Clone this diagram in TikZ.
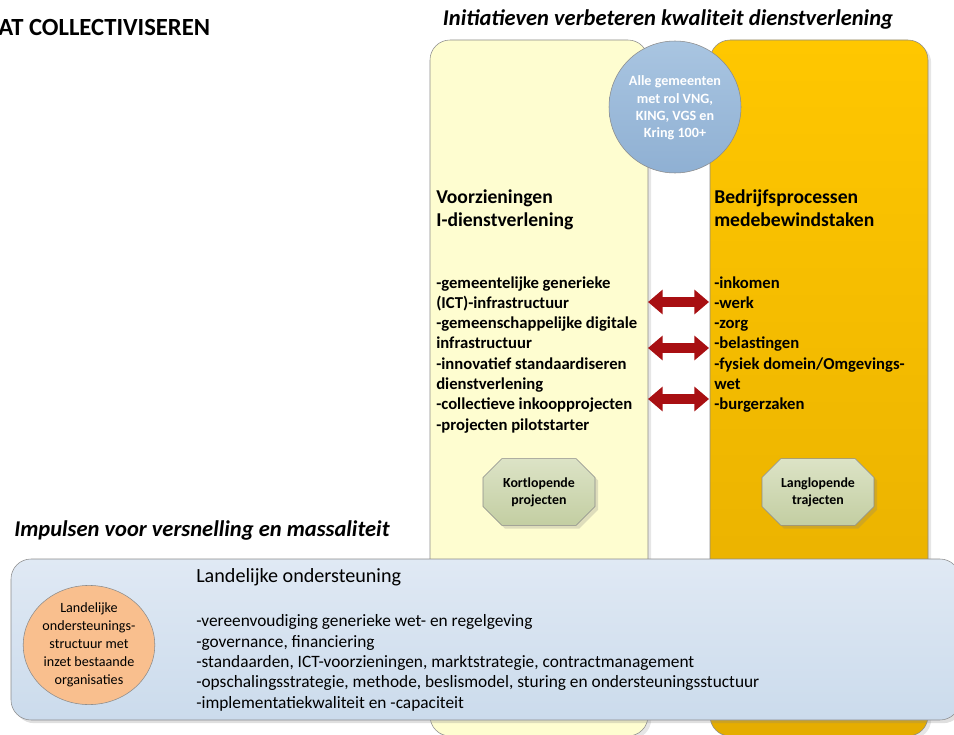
\documentclass[tikz,border=0pt]{standalone}
\usepackage{fontspec}
\setmainfont{Carlito}
\usetikzlibrary{shapes.geometric,shapes.misc,arrows.meta,shadows}
\definecolor{kortgeel}{HTML}{FEFDD0}
\definecolor{langtop}{HTML}{FFC700}
\definecolor{langbot}{HTML}{E5AD00}
\definecolor{rolblauw}{HTML}{A9C5E1}
\definecolor{rolblauwd}{HTML}{8FB0D3}
\definecolor{landtop}{HTML}{E0E9F4}
\definecolor{landbot}{HTML}{CBDBEC}
\definecolor{oranje}{HTML}{F9BF8E}
\definecolor{octtop}{HTML}{DCE3C6}
\definecolor{octbot}{HTML}{C3CEA2}
\definecolor{pijlrood}{HTML}{A80F12}
\definecolor{rand}{HTML}{8A8A8A}
\begin{document}
\begin{tikzpicture}[x=0.75pt,y=-0.75pt,>=stealth,
    kolom/.style={draw=rand,rounded corners=15pt,minimum width=163.5pt,minimum height=522pt,inner sep=0pt},
    lijst/.style={align=left,anchor=base west,inner sep=0pt,font=\fontsize{12.5}{15.2}\selectfont\bfseries},
    kop/.style={align=left,anchor=base west,inner sep=0pt,font=\fontsize{14.7}{17.25}\selectfont\bfseries},
    octa/.style={chamfered rectangle,chamfered rectangle xsep=14pt,draw=rand,top color=octtop,bottom color=octbot,
      minimum width=84pt,minimum height=50pt,inner sep=0pt,align=center,font=\fontsize{10.4}{12.75}\selectfont\bfseries,
      drop shadow={opacity=0.25}},
    pijl/.style={{Triangle[length=11pt,width=18pt]}-{Triangle[length=11pt,width=18pt]},line width=7.5pt,draw=pijlrood}]
  \useasboundingbox (0,0) rectangle (954,735);
  % titels
  \node[anchor=west,inner sep=0pt,font=\fontsize{18.5}{20}\selectfont\bfseries] (kop0) at (-2,27) {AT COLLECTIVISEREN};
  \node[inner sep=0pt,font=\fontsize{16.9}{19}\selectfont\bfseries\itshape] (kop1) at (668,19) {Initiatieven verbeteren kwaliteit dienstverlening};
  % kolommen
  \node[kolom,fill=kortgeel,drop shadow={opacity=0.2}] (voorz) at (539,388) {};
  \node[kolom,top color=langtop,bottom color=langbot,drop shadow={opacity=0.2}] (bedr) at (819,388) {};
  \node[circle,draw=rand,top color=rolblauw,bottom color=rolblauwd,minimum size=99pt,inner sep=0pt,align=center,
    text=white,font=\fontsize{10.6}{13}\selectfont\bfseries] (rol) at (675,107) {\\[-4pt]Alle gemeenten\\met rol VNG,\\KING, VGS en\\Kring 100+};
  % base = laatste regel
  \node[kop] (voorzkop) at (436,226) {Voorzieningen\\I-dienstverlening};
  \node[kop] (bedrkop) at (714,226) {Bedrijfsprocessen\\medebewindstaken};
  \node[lijst] (voorzlijst) at (436,430) {-gemeentelijke generieke\\(ICT)-infrastructuur\\-gemeenschappelijke digitale\\infrastructuur\\-innovatief standaardiseren\\dienstverlening\\-collectieve inkoopprojecten\\-projecten pilotstarter};
  \node[lijst] (bedrlijst) at (714,409.6) {-inkomen\\-werk\\-zorg\\-belastingen\\-fysiek domein/Omgevings-\\wet\\-burgerzaken};
  \node[octa] (kort) at (539,492) {Kortlopende\\projecten};
  \node[octa] (lang) at (818,492) {Langlopende\\trajecten};
  % pijlen
  \foreach \i/\y in {1/302,2/348,3/399}{
    \coordinate (l\i) at (648,\y);
    \coordinate (r\i) at (709,\y);
    \draw[pijl] (l\i) -- (r\i);
  }
  % landelijk
  \node[inner sep=0pt,anchor=west,font=\fontsize{16.9}{19}\selectfont\bfseries\itshape] (kop2) at (14,530) {Impulsen voor versnelling en massaliteit};
  \node[draw=rand,rounded corners=15pt,top color=landtop,bottom color=landbot,minimum width=711.75pt,minimum height=120.75pt,
    drop shadow={opacity=0.25}] (land) at (485.5,639.5) {};
  \node[ellipse,draw=rand,fill=oranje,minimum width=90pt,minimum height=84pt,inner sep=0pt,align=center,
    font=\fontsize{10.6}{13.5}\selectfont] (struct) at (89,645) {Landelijke\\ondersteunings-\\structuur met\\inzet bestaande\\organisaties};
  \node[anchor=base west,inner sep=0pt,font=\fontsize{15.1}{17}\selectfont] (landkop) at (196,582) {Landelijke ondersteuning};
  \node[lijst,font=\fontsize{13}{15.2}\selectfont] (landlijst) at (196,708) {-vereenvoudiging generieke wet- en regelgeving\\-governance, financiering\\-standaarden, ICT-voorzieningen, marktstrategie, contractmanagement\\-opschalingsstrategie, methode, beslismodel, sturing en ondersteuningsstuctuur\\-implementatiekwaliteit en -capaciteit};
\end{tikzpicture}
\end{document}
